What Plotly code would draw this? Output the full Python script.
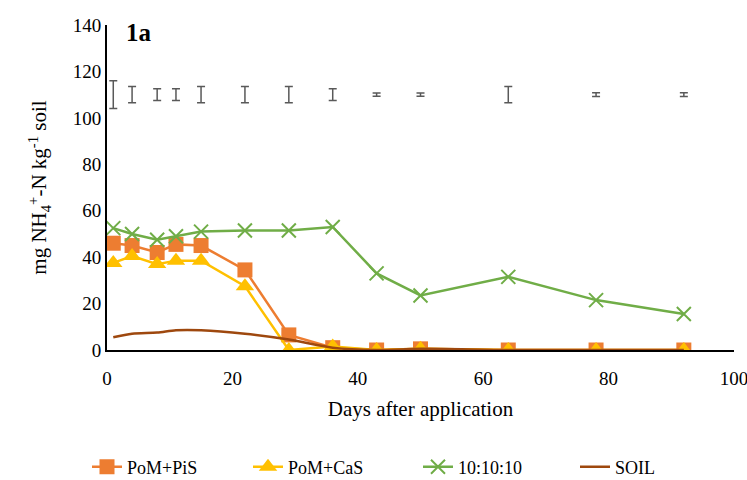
import plotly.graph_objects as go

days = [1, 4, 8, 11, 15, 22, 29, 36, 43, 50, 64, 78, 92]
pom_pis = [46, 45, 42, 45.5, 45, 34.5, 6.5, 1, 0, 0.5, 0, 0, 0]
pom_cas = [37.5, 40.5, 37, 38.5, 38.5, 27.5, 0, 1.5, 0, 0.5, 0, 0, 0]
npk = [52.5, 50, 47.5, 49, 51, 51.5, 51.5, 53, 33, 23.5, 31.5, 21.5, 15.5]
soil = [5.5, 7, 7.5, 8.5, 8.5, 7, 4.5, 1, 0, 0.5, 0, 0, 0]
lsd_center = [110] * 13
lsd_half = [6, 3.5, 2.5, 2.5, 3.5, 3.5, 3.5, 2.5, 0.7, 0.7, 3.5, 0.8, 0.8]

FONT = "Liberation Serif"

fig = go.Figure()

fig.add_trace(go.Scatter(
    x=days, y=lsd_center, mode="markers", showlegend=False,
    marker=dict(size=0.1, opacity=0, color="#595959"),
    error_y=dict(type="data", array=lsd_half, visible=True, color="#595959",
                 thickness=1.5, width=4),
    hoverinfo="skip"))

fig.add_trace(go.Scatter(
    x=days, y=pom_pis, name="PoM+PiS", mode="lines+markers", legend="legend",
    line=dict(color="#ED7D31", width=2.5),
    marker=dict(symbol="square", size=15, color="#ED7D31")))

fig.add_trace(go.Scatter(
    x=days, y=pom_cas, name="PoM+CaS", mode="lines+markers", legend="legend2",
    line=dict(color="#FFC000", width=2.5),
    marker=dict(symbol="triangle-up", size=16, color="#FFC000")))

fig.add_trace(go.Scatter(
    x=days, y=npk, name="10:10:10", mode="lines+markers", legend="legend3",
    line=dict(color="#70AD47", width=2.5),
    marker=dict(symbol="x-thin", size=14, color="#70AD47",
                line=dict(color="#70AD47", width=2))))

fig.add_trace(go.Scatter(
    x=days, y=soil, name="SOIL", mode="lines", legend="legend4",
    line=dict(color="#9E480E", width=2.5, shape="spline", smoothing=0.8)))

fig.add_annotation(
    text="<b>1a</b>", xref="paper", yref="paper", x=0.027, y=0.978,
    xanchor="left", yanchor="middle", showarrow=False,
    font=dict(family=FONT, size=25, color="black"))


def leg(px):
    return dict(orientation="h", x=(px - 5) / 747, xanchor="left", xref="container",
                y=0.027, yanchor="middle", yref="container",
                font=dict(family=FONT, size=18, color="black"),
                bgcolor="rgba(0,0,0,0)")


fig.update_layout(
    width=747, height=480,
    margin=dict(l=107, r=13, t=25, b=130, autoexpand=False),
    paper_bgcolor="white", plot_bgcolor="white",
    font=dict(family=FONT, size=19, color="black"),
    xaxis=dict(range=[0, 100], dtick=20, showgrid=False, zeroline=False,
               showline=True, linecolor="black", linewidth=2, ticks="",
               ticklabeloverflow="allow", automargin=False, ticklabelstandoff=10,
               title=dict(text="Days after application",
                          font=dict(family=FONT, size=21, color="black"), standoff=14),
               tickfont=dict(family=FONT, size=19, color="black")),
    yaxis=dict(range=[0, 140], dtick=20, showgrid=False, zeroline=False,
               showline=True, linecolor="black", linewidth=2, ticks="",
               automargin=False,
               title=dict(text="mg NH<sub>4</sub><sup>+</sup>-N kg<sup>-1</sup> soil",
                          font=dict(family=FONT, size=21, color="black"), standoff=20),
               tickfont=dict(family=FONT, size=19, color="black")),
    legend=leg(92),
    legend2=leg(253),
    legend3=leg(423),
    legend4=leg(580),
)

fig.write_html("out.html")
